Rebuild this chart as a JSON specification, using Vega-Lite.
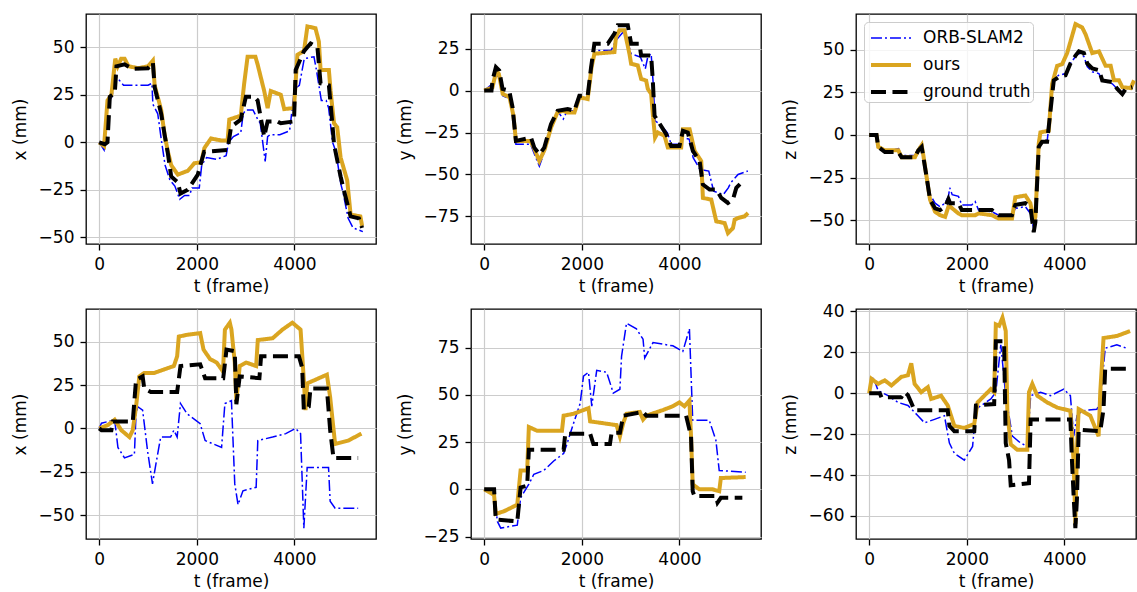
{
"$schema": "https://vega.github.io/schema/vega-lite/v6.json",
"padding": {"left": 10, "top": 13, "right": 0, "bottom": 0},
"bounds": "flush",
"columns": 3,
"spacing": {"row": 65, "column": 95},
"resolve": {"scale": {"color": "independent", "strokeDash": "independent", "strokeWidth": "independent"}, "legend": {"color": "independent", "strokeDash": "independent", "strokeWidth": "independent"}},
"config": {
  "font": "DejaVu Sans",
  "view": {"stroke": "#000000", "strokeWidth": 1.3},
  "axis": {"domain": false, "grid": true, "gridColor": "#cccccc", "gridWidth": 1.2, "tickColor": "#000000", "tickSize": 6, "tickWidth": 1.3, "labelFontSize": 17, "labelColor": "#000000", "labelFont": "DejaVu Sans", "titleFont": "DejaVu Sans", "titleFontSize": 17, "titleFontWeight": "normal", "titleColor": "#000000", "labelPadding": 6, "titlePadding": 6, "labelFlush": false, "labelOverlap": false},
  "axisY": {"titlePadding": 9},
  "legend": {"labelFont": "DejaVu Sans", "labelFontSize": 17, "labelColor": "#000000", "rowPadding": 4}
},
"data": {"values": [
{"p":1,"s":"a","t":0,"v":0},{"p":1,"s":"a","t":100,"v":-4},{"p":1,"s":"a","t":170,"v":20},{"p":1,"s":"a","t":260,"v":24},{"p":1,"s":"a","t":340,"v":35},{"p":1,"s":"a","t":400,"v":33},{"p":1,"s":"a","t":500,"v":30},{"p":1,"s":"a","t":700,"v":30},{"p":1,"s":"a","t":1000,"v":30},{"p":1,"s":"a","t":1080,"v":31},{"p":1,"s":"a","t":1100,"v":20},{"p":1,"s":"a","t":1200,"v":15},{"p":1,"s":"a","t":1280,"v":0},{"p":1,"s":"a","t":1350,"v":-12},{"p":1,"s":"a","t":1450,"v":-20},{"p":1,"s":"a","t":1550,"v":-23},{"p":1,"s":"a","t":1650,"v":-30},{"p":1,"s":"a","t":1750,"v":-28},{"p":1,"s":"a","t":1850,"v":-28},{"p":1,"s":"a","t":1900,"v":-24},{"p":1,"s":"a","t":2050,"v":-24},{"p":1,"s":"a","t":2100,"v":-12},{"p":1,"s":"a","t":2200,"v":-8},{"p":1,"s":"a","t":2400,"v":-9},{"p":1,"s":"a","t":2600,"v":-7},{"p":1,"s":"a","t":2650,"v":0},{"p":1,"s":"a","t":2750,"v":3},{"p":1,"s":"a","t":2900,"v":5},{"p":1,"s":"a","t":2950,"v":15},{"p":1,"s":"a","t":3000,"v":17},{"p":1,"s":"a","t":3150,"v":17},{"p":1,"s":"a","t":3250,"v":12},{"p":1,"s":"a","t":3300,"v":10},{"p":1,"s":"a","t":3400,"v":-10},{"p":1,"s":"a","t":3450,"v":3},{"p":1,"s":"a","t":3500,"v":4},{"p":1,"s":"a","t":3700,"v":4},{"p":1,"s":"a","t":3900,"v":6},{"p":1,"s":"a","t":4000,"v":28},{"p":1,"s":"a","t":4100,"v":30},{"p":1,"s":"a","t":4200,"v":44},{"p":1,"s":"a","t":4400,"v":45},{"p":1,"s":"a","t":4450,"v":38},{"p":1,"s":"a","t":4550,"v":22},{"p":1,"s":"a","t":4650,"v":22},{"p":1,"s":"a","t":4700,"v":18},{"p":1,"s":"a","t":4780,"v":0},{"p":1,"s":"a","t":4850,"v":-5},{"p":1,"s":"a","t":4950,"v":-22},{"p":1,"s":"a","t":5000,"v":-27},{"p":1,"s":"a","t":5100,"v":-40},{"p":1,"s":"a","t":5200,"v":-45},{"p":1,"s":"a","t":5300,"v":-46},{"p":1,"s":"a","t":5400,"v":-47},
{"p":1,"s":"b","t":0,"v":0},{"p":1,"s":"b","t":100,"v":-2},{"p":1,"s":"b","t":170,"v":22},{"p":1,"s":"b","t":250,"v":25},{"p":1,"s":"b","t":330,"v":44},{"p":1,"s":"b","t":380,"v":40},{"p":1,"s":"b","t":450,"v":44},{"p":1,"s":"b","t":520,"v":44},{"p":1,"s":"b","t":600,"v":40},{"p":1,"s":"b","t":800,"v":39},{"p":1,"s":"b","t":1000,"v":40},{"p":1,"s":"b","t":1100,"v":43},{"p":1,"s":"b","t":1136,"v":30},{"p":1,"s":"b","t":1270,"v":17},{"p":1,"s":"b","t":1340,"v":4},{"p":1,"s":"b","t":1408,"v":-5},{"p":1,"s":"b","t":1475,"v":-12},{"p":1,"s":"b","t":1610,"v":-17},{"p":1,"s":"b","t":1815,"v":-15},{"p":1,"s":"b","t":1950,"v":-11},{"p":1,"s":"b","t":2090,"v":-10.5},{"p":1,"s":"b","t":2155,"v":-3},{"p":1,"s":"b","t":2290,"v":2},{"p":1,"s":"b","t":2495,"v":1},{"p":1,"s":"b","t":2630,"v":1},{"p":1,"s":"b","t":2665,"v":12},{"p":1,"s":"b","t":2900,"v":14},{"p":1,"s":"b","t":2970,"v":31},{"p":1,"s":"b","t":3040,"v":45},{"p":1,"s":"b","t":3200,"v":45},{"p":1,"s":"b","t":3245,"v":41},{"p":1,"s":"b","t":3380,"v":27},{"p":1,"s":"b","t":3450,"v":18},{"p":1,"s":"b","t":3515,"v":27},{"p":1,"s":"b","t":3720,"v":25},{"p":1,"s":"b","t":3790,"v":17.5},{"p":1,"s":"b","t":3990,"v":18},{"p":1,"s":"b","t":4060,"v":46},{"p":1,"s":"b","t":4195,"v":48},{"p":1,"s":"b","t":4265,"v":61},{"p":1,"s":"b","t":4430,"v":60},{"p":1,"s":"b","t":4500,"v":53},{"p":1,"s":"b","t":4535,"v":38},{"p":1,"s":"b","t":4705,"v":38},{"p":1,"s":"b","t":4740,"v":27},{"p":1,"s":"b","t":4810,"v":10},{"p":1,"s":"b","t":4875,"v":8},{"p":1,"s":"b","t":4945,"v":-8},{"p":1,"s":"b","t":5080,"v":-20},{"p":1,"s":"b","t":5150,"v":-38},{"p":1,"s":"b","t":5350,"v":-39},{"p":1,"s":"b","t":5385,"v":-44},
{"p":1,"s":"c","t":0,"v":0},{"p":1,"s":"c","t":116,"v":-1},{"p":1,"s":"c","t":170,"v":0},{"p":1,"s":"c","t":218,"v":24},{"p":1,"s":"c","t":320,"v":26},{"p":1,"s":"c","t":354,"v":40},{"p":1,"s":"c","t":520,"v":41},{"p":1,"s":"c","t":680,"v":38.6},{"p":1,"s":"c","t":1000,"v":39},{"p":1,"s":"c","t":1100,"v":42},{"p":1,"s":"c","t":1136,"v":29},{"p":1,"s":"c","t":1270,"v":15},{"p":1,"s":"c","t":1340,"v":4},{"p":1,"s":"c","t":1408,"v":-6},{"p":1,"s":"c","t":1475,"v":-18},{"p":1,"s":"c","t":1610,"v":-21},{"p":1,"s":"c","t":1666,"v":-27},{"p":1,"s":"c","t":1815,"v":-25},{"p":1,"s":"c","t":1918,"v":-21},{"p":1,"s":"c","t":2020,"v":-17},{"p":1,"s":"c","t":2150,"v":-5},{"p":1,"s":"c","t":2630,"v":-4},{"p":1,"s":"c","t":2700,"v":8},{"p":1,"s":"c","t":2900,"v":12},{"p":1,"s":"c","t":3005,"v":24},{"p":1,"s":"c","t":3175,"v":24},{"p":1,"s":"c","t":3245,"v":22},{"p":1,"s":"c","t":3380,"v":3},{"p":1,"s":"c","t":3450,"v":11},{"p":1,"s":"c","t":3650,"v":11},{"p":1,"s":"c","t":3720,"v":10},{"p":1,"s":"c","t":3990,"v":11},{"p":1,"s":"c","t":4025,"v":38},{"p":1,"s":"c","t":4195,"v":48},{"p":1,"s":"c","t":4330,"v":52},{"p":1,"s":"c","t":4470,"v":50},{"p":1,"s":"c","t":4535,"v":31},{"p":1,"s":"c","t":4705,"v":30},{"p":1,"s":"c","t":4775,"v":10},{"p":1,"s":"c","t":4810,"v":-1},{"p":1,"s":"c","t":4945,"v":-18},{"p":1,"s":"c","t":5010,"v":-25},{"p":1,"s":"c","t":5150,"v":-39},{"p":1,"s":"c","t":5320,"v":-40},{"p":1,"s":"c","t":5385,"v":-45},
{"p":2,"s":"a","t":0,"v":0},{"p":2,"s":"a","t":170,"v":4},{"p":2,"s":"a","t":240,"v":10},{"p":2,"s":"a","t":300,"v":8},{"p":2,"s":"a","t":380,"v":-3},{"p":2,"s":"a","t":520,"v":-5},{"p":2,"s":"a","t":600,"v":-15},{"p":2,"s":"a","t":650,"v":-32},{"p":2,"s":"a","t":950,"v":-32},{"p":2,"s":"a","t":1030,"v":-38},{"p":2,"s":"a","t":1130,"v":-45},{"p":2,"s":"a","t":1240,"v":-36},{"p":2,"s":"a","t":1370,"v":-22},{"p":2,"s":"a","t":1500,"v":-12},{"p":2,"s":"a","t":1620,"v":-17},{"p":2,"s":"a","t":1700,"v":-12},{"p":2,"s":"a","t":1850,"v":-12},{"p":2,"s":"a","t":1950,"v":-3},{"p":2,"s":"a","t":2120,"v":-5},{"p":2,"s":"a","t":2200,"v":14},{"p":2,"s":"a","t":2257,"v":24},{"p":2,"s":"a","t":2600,"v":24},{"p":2,"s":"a","t":2700,"v":30},{"p":2,"s":"a","t":2850,"v":35},{"p":2,"s":"a","t":2950,"v":28},{"p":2,"s":"a","t":3010,"v":22},{"p":2,"s":"a","t":3200,"v":20},{"p":2,"s":"a","t":3300,"v":13},{"p":2,"s":"a","t":3350,"v":20},{"p":2,"s":"a","t":3420,"v":22},{"p":2,"s":"a","t":3460,"v":5},{"p":2,"s":"a","t":3500,"v":-18},{"p":2,"s":"a","t":3600,"v":-20},{"p":2,"s":"a","t":3750,"v":-25},{"p":2,"s":"a","t":3830,"v":-32},{"p":2,"s":"a","t":4000,"v":-32},{"p":2,"s":"a","t":4070,"v":-28},{"p":2,"s":"a","t":4200,"v":-29},{"p":2,"s":"a","t":4280,"v":-40},{"p":2,"s":"a","t":4420,"v":-47},{"p":2,"s":"a","t":4600,"v":-48},{"p":2,"s":"a","t":4700,"v":-60},{"p":2,"s":"a","t":4900,"v":-62},{"p":2,"s":"a","t":5000,"v":-58},{"p":2,"s":"a","t":5050,"v":-55},{"p":2,"s":"a","t":5200,"v":-50},{"p":2,"s":"a","t":5400,"v":-48},
{"p":2,"s":"b","t":0,"v":0},{"p":2,"s":"b","t":170,"v":2},{"p":2,"s":"b","t":250,"v":12},{"p":2,"s":"b","t":300,"v":10},{"p":2,"s":"b","t":380,"v":-2},{"p":2,"s":"b","t":520,"v":-4},{"p":2,"s":"b","t":600,"v":-15},{"p":2,"s":"b","t":650,"v":-30},{"p":2,"s":"b","t":950,"v":-30},{"p":2,"s":"b","t":1030,"v":-35},{"p":2,"s":"b","t":1130,"v":-42},{"p":2,"s":"b","t":1240,"v":-35},{"p":2,"s":"b","t":1370,"v":-22},{"p":2,"s":"b","t":1500,"v":-13},{"p":2,"s":"b","t":1620,"v":-12},{"p":2,"s":"b","t":1700,"v":-13},{"p":2,"s":"b","t":1850,"v":-13},{"p":2,"s":"b","t":1950,"v":-4},{"p":2,"s":"b","t":2120,"v":-5},{"p":2,"s":"b","t":2200,"v":14},{"p":2,"s":"b","t":2257,"v":22},{"p":2,"s":"b","t":2668,"v":23},{"p":2,"s":"b","t":2700,"v":32},{"p":2,"s":"b","t":2770,"v":36},{"p":2,"s":"b","t":2873,"v":36},{"p":2,"s":"b","t":2975,"v":22},{"p":2,"s":"b","t":3010,"v":16},{"p":2,"s":"b","t":3146,"v":15},{"p":2,"s":"b","t":3215,"v":7},{"p":2,"s":"b","t":3317,"v":6},{"p":2,"s":"b","t":3352,"v":1},{"p":2,"s":"b","t":3420,"v":-2},{"p":2,"s":"b","t":3460,"v":-16},{"p":2,"s":"b","t":3500,"v":-28},{"p":2,"s":"b","t":3557,"v":-25},{"p":2,"s":"b","t":3694,"v":-27},{"p":2,"s":"b","t":3762,"v":-34},{"p":2,"s":"b","t":4035,"v":-34},{"p":2,"s":"b","t":4070,"v":-23},{"p":2,"s":"b","t":4207,"v":-23},{"p":2,"s":"b","t":4310,"v":-36},{"p":2,"s":"b","t":4446,"v":-42},{"p":2,"s":"b","t":4480,"v":-64},{"p":2,"s":"b","t":4651,"v":-65},{"p":2,"s":"b","t":4754,"v":-78},{"p":2,"s":"b","t":4925,"v":-79},{"p":2,"s":"b","t":4993,"v":-85},{"p":2,"s":"b","t":5096,"v":-82},{"p":2,"s":"b","t":5130,"v":-77},{"p":2,"s":"b","t":5198,"v":-76},{"p":2,"s":"b","t":5335,"v":-75},{"p":2,"s":"b","t":5404,"v":-73},
{"p":2,"s":"c","t":0,"v":0},{"p":2,"s":"c","t":150,"v":0},{"p":2,"s":"c","t":170,"v":6},{"p":2,"s":"c","t":240,"v":14},{"p":2,"s":"c","t":308,"v":12},{"p":2,"s":"c","t":376,"v":1},{"p":2,"s":"c","t":513,"v":0},{"p":2,"s":"c","t":581,"v":-10},{"p":2,"s":"c","t":650,"v":-30},{"p":2,"s":"c","t":958,"v":-28},{"p":2,"s":"c","t":1026,"v":-34},{"p":2,"s":"c","t":1130,"v":-38},{"p":2,"s":"c","t":1231,"v":-34},{"p":2,"s":"c","t":1368,"v":-20},{"p":2,"s":"c","t":1505,"v":-12},{"p":2,"s":"c","t":1710,"v":-11},{"p":2,"s":"c","t":1847,"v":-12},{"p":2,"s":"c","t":1950,"v":-3},{"p":2,"s":"c","t":2120,"v":-3},{"p":2,"s":"c","t":2190,"v":14},{"p":2,"s":"c","t":2257,"v":28},{"p":2,"s":"c","t":2531,"v":28},{"p":2,"s":"c","t":2668,"v":34},{"p":2,"s":"c","t":2736,"v":39},{"p":2,"s":"c","t":2941,"v":39},{"p":2,"s":"c","t":3010,"v":28},{"p":2,"s":"c","t":3180,"v":28},{"p":2,"s":"c","t":3215,"v":21},{"p":2,"s":"c","t":3420,"v":21},{"p":2,"s":"c","t":3454,"v":6},{"p":2,"s":"c","t":3490,"v":-15},{"p":2,"s":"c","t":3557,"v":-18},{"p":2,"s":"c","t":3728,"v":-26},{"p":2,"s":"c","t":3830,"v":-33},{"p":2,"s":"c","t":4000,"v":-33},{"p":2,"s":"c","t":4070,"v":-24},{"p":2,"s":"c","t":4170,"v":-25},{"p":2,"s":"c","t":4275,"v":-36},{"p":2,"s":"c","t":4412,"v":-42},{"p":2,"s":"c","t":4480,"v":-56},{"p":2,"s":"c","t":4617,"v":-59},{"p":2,"s":"c","t":4754,"v":-59},{"p":2,"s":"c","t":4856,"v":-64},{"p":2,"s":"c","t":4993,"v":-67},{"p":2,"s":"c","t":5096,"v":-65},{"p":2,"s":"c","t":5164,"v":-58},{"p":2,"s":"c","t":5267,"v":-55},{"p":2,"s":"c","t":5335,"v":-55},
{"p":3,"s":"a","t":0,"v":0},{"p":3,"s":"a","t":150,"v":0},{"p":3,"s":"a","t":185,"v":-7},{"p":3,"s":"a","t":322,"v":-10},{"p":3,"s":"a","t":600,"v":-8},{"p":3,"s":"a","t":664,"v":-12},{"p":3,"s":"a","t":938,"v":-12},{"p":3,"s":"a","t":1007,"v":-8},{"p":3,"s":"a","t":1075,"v":-5},{"p":3,"s":"a","t":1110,"v":-12},{"p":3,"s":"a","t":1178,"v":-22},{"p":3,"s":"a","t":1247,"v":-35},{"p":3,"s":"a","t":1350,"v":-40},{"p":3,"s":"a","t":1452,"v":-42},{"p":3,"s":"a","t":1555,"v":-40},{"p":3,"s":"a","t":1623,"v":-36},{"p":3,"s":"a","t":1650,"v":-31},{"p":3,"s":"a","t":1700,"v":-35},{"p":3,"s":"a","t":1829,"v":-36},{"p":3,"s":"a","t":1897,"v":-41},{"p":3,"s":"a","t":2100,"v":-41},{"p":3,"s":"a","t":2171,"v":-39},{"p":3,"s":"a","t":2240,"v":-44},{"p":3,"s":"a","t":2514,"v":-45},{"p":3,"s":"a","t":2651,"v":-47},{"p":3,"s":"a","t":2925,"v":-47},{"p":3,"s":"a","t":2993,"v":-43},{"p":3,"s":"a","t":3199,"v":-42},{"p":3,"s":"a","t":3302,"v":-46},{"p":3,"s":"a","t":3370,"v":-55},{"p":3,"s":"a","t":3404,"v":-50},{"p":3,"s":"a","t":3473,"v":-7},{"p":3,"s":"a","t":3541,"v":-4},{"p":3,"s":"a","t":3644,"v":-4},{"p":3,"s":"a","t":3713,"v":14},{"p":3,"s":"a","t":3781,"v":33},{"p":3,"s":"a","t":3884,"v":35},{"p":3,"s":"a","t":4021,"v":36},{"p":3,"s":"a","t":4124,"v":42},{"p":3,"s":"a","t":4226,"v":46},{"p":3,"s":"a","t":4295,"v":48},{"p":3,"s":"a","t":4398,"v":46},{"p":3,"s":"a","t":4466,"v":40},{"p":3,"s":"a","t":4569,"v":37},{"p":3,"s":"a","t":4706,"v":36},{"p":3,"s":"a","t":4774,"v":32},{"p":3,"s":"a","t":4980,"v":30},{"p":3,"s":"a","t":5083,"v":27},{"p":3,"s":"a","t":5185,"v":26},{"p":3,"s":"a","t":5254,"v":27},{"p":3,"s":"a","t":5391,"v":28},
{"p":3,"s":"b","t":0,"v":0},{"p":3,"s":"b","t":150,"v":0},{"p":3,"s":"b","t":185,"v":-7},{"p":3,"s":"b","t":322,"v":-9},{"p":3,"s":"b","t":596,"v":-9},{"p":3,"s":"b","t":664,"v":-13},{"p":3,"s":"b","t":938,"v":-13},{"p":3,"s":"b","t":1007,"v":-9},{"p":3,"s":"b","t":1075,"v":-6},{"p":3,"s":"b","t":1110,"v":-12},{"p":3,"s":"b","t":1178,"v":-25},{"p":3,"s":"b","t":1247,"v":-38},{"p":3,"s":"b","t":1350,"v":-45},{"p":3,"s":"b","t":1452,"v":-47},{"p":3,"s":"b","t":1555,"v":-48},{"p":3,"s":"b","t":1623,"v":-42},{"p":3,"s":"b","t":1658,"v":-42},{"p":3,"s":"b","t":1829,"v":-46},{"p":3,"s":"b","t":1897,"v":-47},{"p":3,"s":"b","t":2171,"v":-47},{"p":3,"s":"b","t":2240,"v":-46},{"p":3,"s":"b","t":2514,"v":-47},{"p":3,"s":"b","t":2651,"v":-49},{"p":3,"s":"b","t":2925,"v":-49},{"p":3,"s":"b","t":2993,"v":-36.5},{"p":3,"s":"b","t":3199,"v":-35.5},{"p":3,"s":"b","t":3302,"v":-40},{"p":3,"s":"b","t":3370,"v":-51},{"p":3,"s":"b","t":3404,"v":-48},{"p":3,"s":"b","t":3473,"v":-5},{"p":3,"s":"b","t":3507,"v":1.5},{"p":3,"s":"b","t":3678,"v":2.5},{"p":3,"s":"b","t":3747,"v":30},{"p":3,"s":"b","t":3850,"v":40.5},{"p":3,"s":"b","t":3952,"v":41.5},{"p":3,"s":"b","t":4055,"v":48},{"p":3,"s":"b","t":4226,"v":65},{"p":3,"s":"b","t":4363,"v":63},{"p":3,"s":"b","t":4432,"v":59},{"p":3,"s":"b","t":4569,"v":48},{"p":3,"s":"b","t":4706,"v":49},{"p":3,"s":"b","t":4843,"v":40.5},{"p":3,"s":"b","t":4946,"v":40.5},{"p":3,"s":"b","t":5014,"v":32},{"p":3,"s":"b","t":5117,"v":32},{"p":3,"s":"b","t":5185,"v":28},{"p":3,"s":"b","t":5357,"v":27.5},{"p":3,"s":"b","t":5425,"v":32},
{"p":3,"s":"c","t":0,"v":0},{"p":3,"s":"c","t":150,"v":0},{"p":3,"s":"c","t":185,"v":-7},{"p":3,"s":"c","t":322,"v":-10},{"p":3,"s":"c","t":596,"v":-10},{"p":3,"s":"c","t":664,"v":-13},{"p":3,"s":"c","t":938,"v":-13},{"p":3,"s":"c","t":1007,"v":-9},{"p":3,"s":"c","t":1075,"v":-7},{"p":3,"s":"c","t":1110,"v":-13},{"p":3,"s":"c","t":1178,"v":-25},{"p":3,"s":"c","t":1247,"v":-38},{"p":3,"s":"c","t":1350,"v":-43},{"p":3,"s":"c","t":1452,"v":-44},{"p":3,"s":"c","t":1555,"v":-42},{"p":3,"s":"c","t":1623,"v":-37.5},{"p":3,"s":"c","t":1658,"v":-40},{"p":3,"s":"c","t":1829,"v":-40},{"p":3,"s":"c","t":1897,"v":-44},{"p":3,"s":"c","t":2514,"v":-44},{"p":3,"s":"c","t":2651,"v":-47},{"p":3,"s":"c","t":2925,"v":-47},{"p":3,"s":"c","t":2993,"v":-41},{"p":3,"s":"c","t":3199,"v":-40},{"p":3,"s":"c","t":3302,"v":-42},{"p":3,"s":"c","t":3370,"v":-57},{"p":3,"s":"c","t":3404,"v":-51},{"p":3,"s":"c","t":3473,"v":-7},{"p":3,"s":"c","t":3541,"v":-4},{"p":3,"s":"c","t":3644,"v":-4},{"p":3,"s":"c","t":3713,"v":14},{"p":3,"s":"c","t":3781,"v":32},{"p":3,"s":"c","t":3884,"v":34},{"p":3,"s":"c","t":4021,"v":35},{"p":3,"s":"c","t":4124,"v":42},{"p":3,"s":"c","t":4226,"v":46.5},{"p":3,"s":"c","t":4295,"v":49},{"p":3,"s":"c","t":4398,"v":48},{"p":3,"s":"c","t":4466,"v":42},{"p":3,"s":"c","t":4569,"v":39},{"p":3,"s":"c","t":4706,"v":38},{"p":3,"s":"c","t":4774,"v":32},{"p":3,"s":"c","t":4980,"v":31},{"p":3,"s":"c","t":5083,"v":27},{"p":3,"s":"c","t":5185,"v":24},{"p":3,"s":"c","t":5254,"v":27},{"p":3,"s":"c","t":5391,"v":28},
{"p":4,"s":"a","t":0,"v":0},{"p":4,"s":"a","t":47,"v":3},{"p":4,"s":"a","t":317,"v":5},{"p":4,"s":"a","t":384,"v":-11},{"p":4,"s":"a","t":519,"v":-17},{"p":4,"s":"a","t":721,"v":-15},{"p":4,"s":"a","t":755,"v":8.5},{"p":4,"s":"a","t":789,"v":12.5},{"p":4,"s":"a","t":890,"v":10.5},{"p":4,"s":"a","t":991,"v":-13},{"p":4,"s":"a","t":1092,"v":-32},{"p":4,"s":"a","t":1159,"v":-21},{"p":4,"s":"a","t":1260,"v":-5},{"p":4,"s":"a","t":1463,"v":-5},{"p":4,"s":"a","t":1530,"v":-1},{"p":4,"s":"a","t":1597,"v":-5},{"p":4,"s":"a","t":1665,"v":14.4},{"p":4,"s":"a","t":1800,"v":8.5},{"p":4,"s":"a","t":2069,"v":2.7},{"p":4,"s":"a","t":2170,"v":-7},{"p":4,"s":"a","t":2339,"v":-9},{"p":4,"s":"a","t":2507,"v":-11},{"p":4,"s":"a","t":2575,"v":14.4},{"p":4,"s":"a","t":2709,"v":16},{"p":4,"s":"a","t":2777,"v":-32},{"p":4,"s":"a","t":2844,"v":-44},{"p":4,"s":"a","t":2945,"v":-36},{"p":4,"s":"a","t":3215,"v":-34},{"p":4,"s":"a","t":3249,"v":-7},{"p":4,"s":"a","t":3552,"v":-5},{"p":4,"s":"a","t":3822,"v":-3},{"p":4,"s":"a","t":4024,"v":0},{"p":4,"s":"a","t":4125,"v":-3},{"p":4,"s":"a","t":4192,"v":-57.6},{"p":4,"s":"a","t":4260,"v":-22.6},{"p":4,"s":"a","t":4698,"v":-22.6},{"p":4,"s":"a","t":4731,"v":-42},{"p":4,"s":"a","t":4832,"v":-46},{"p":4,"s":"a","t":5304,"v":-46},
{"p":4,"s":"b","t":0,"v":0},{"p":4,"s":"b","t":182,"v":2},{"p":4,"s":"b","t":317,"v":5},{"p":4,"s":"b","t":452,"v":-1},{"p":4,"s":"b","t":620,"v":-5},{"p":4,"s":"b","t":688,"v":-1},{"p":4,"s":"b","t":755,"v":12.5},{"p":4,"s":"b","t":822,"v":30},{"p":4,"s":"b","t":923,"v":32},{"p":4,"s":"b","t":1126,"v":32},{"p":4,"s":"b","t":1328,"v":34},{"p":4,"s":"b","t":1530,"v":36},{"p":4,"s":"b","t":1597,"v":41.6},{"p":4,"s":"b","t":1631,"v":53},{"p":4,"s":"b","t":1800,"v":54},{"p":4,"s":"b","t":2069,"v":55},{"p":4,"s":"b","t":2137,"v":45.5},{"p":4,"s":"b","t":2271,"v":40},{"p":4,"s":"b","t":2406,"v":38},{"p":4,"s":"b","t":2507,"v":34},{"p":4,"s":"b","t":2541,"v":36},{"p":4,"s":"b","t":2575,"v":57},{"p":4,"s":"b","t":2676,"v":61},{"p":4,"s":"b","t":2709,"v":57},{"p":4,"s":"b","t":2777,"v":38},{"p":4,"s":"b","t":2810,"v":16},{"p":4,"s":"b","t":2878,"v":36},{"p":4,"s":"b","t":3013,"v":38},{"p":4,"s":"b","t":3215,"v":36},{"p":4,"s":"b","t":3249,"v":51},{"p":4,"s":"b","t":3552,"v":52},{"p":4,"s":"b","t":3754,"v":57},{"p":4,"s":"b","t":3956,"v":61},{"p":4,"s":"b","t":4125,"v":57},{"p":4,"s":"b","t":4192,"v":28},{"p":4,"s":"b","t":4226,"v":10.5},{"p":4,"s":"b","t":4260,"v":26},{"p":4,"s":"b","t":4664,"v":31},{"p":4,"s":"b","t":4731,"v":18},{"p":4,"s":"b","t":4832,"v":-9},{"p":4,"s":"b","t":5102,"v":-7},{"p":4,"s":"b","t":5372,"v":-3},
{"p":4,"s":"c","t":0,"v":0},{"p":4,"s":"c","t":47,"v":-1},{"p":4,"s":"c","t":250,"v":-1},{"p":4,"s":"c","t":283,"v":4},{"p":4,"s":"c","t":688,"v":4},{"p":4,"s":"c","t":755,"v":28},{"p":4,"s":"c","t":890,"v":30},{"p":4,"s":"c","t":923,"v":23},{"p":4,"s":"c","t":1058,"v":21},{"p":4,"s":"c","t":1597,"v":21},{"p":4,"s":"c","t":1665,"v":36},{"p":4,"s":"c","t":2069,"v":37},{"p":4,"s":"c","t":2170,"v":29},{"p":4,"s":"c","t":2541,"v":29},{"p":4,"s":"c","t":2608,"v":45.5},{"p":4,"s":"c","t":2777,"v":44.5},{"p":4,"s":"c","t":2810,"v":14},{"p":4,"s":"c","t":2878,"v":30},{"p":4,"s":"c","t":3282,"v":29},{"p":4,"s":"c","t":3316,"v":41.6},{"p":4,"s":"c","t":4091,"v":41.6},{"p":4,"s":"c","t":4158,"v":35},{"p":4,"s":"c","t":4192,"v":10.5},{"p":4,"s":"c","t":4293,"v":12.5},{"p":4,"s":"c","t":4327,"v":23},{"p":4,"s":"c","t":4664,"v":23},{"p":4,"s":"c","t":4731,"v":-1},{"p":4,"s":"c","t":4799,"v":-17},{"p":4,"s":"c","t":5304,"v":-17},
{"p":5,"s":"a","t":0,"v":0},{"p":5,"s":"a","t":203,"v":-3},{"p":5,"s":"a","t":271,"v":-17},{"p":5,"s":"a","t":339,"v":-20.5},{"p":5,"s":"a","t":678,"v":-19},{"p":5,"s":"a","t":746,"v":-4.5},{"p":5,"s":"a","t":915,"v":2.7},{"p":5,"s":"a","t":1017,"v":8},{"p":5,"s":"a","t":1220,"v":10},{"p":5,"s":"a","t":1424,"v":15},{"p":5,"s":"a","t":1627,"v":19},{"p":5,"s":"a","t":1695,"v":24},{"p":5,"s":"a","t":1831,"v":35},{"p":5,"s":"a","t":1966,"v":45.5},{"p":5,"s":"a","t":2034,"v":60},{"p":5,"s":"a","t":2136,"v":62},{"p":5,"s":"a","t":2204,"v":44},{"p":5,"s":"a","t":2305,"v":63},{"p":5,"s":"a","t":2509,"v":62},{"p":5,"s":"a","t":2644,"v":51},{"p":5,"s":"a","t":2780,"v":53},{"p":5,"s":"a","t":2814,"v":70.5},{"p":5,"s":"a","t":2915,"v":88},{"p":5,"s":"a","t":3119,"v":85},{"p":5,"s":"a","t":3254,"v":79.5},{"p":5,"s":"a","t":3288,"v":69.6},{"p":5,"s":"a","t":3458,"v":77.7},{"p":5,"s":"a","t":3865,"v":76},{"p":5,"s":"a","t":4068,"v":73},{"p":5,"s":"a","t":4204,"v":85},{"p":5,"s":"a","t":4271,"v":36.6},{"p":5,"s":"a","t":4610,"v":36.6},{"p":5,"s":"a","t":4746,"v":26},{"p":5,"s":"a","t":4814,"v":10},{"p":5,"s":"a","t":5356,"v":9},
{"p":5,"s":"b","t":0,"v":0},{"p":5,"s":"b","t":136,"v":-2},{"p":5,"s":"b","t":203,"v":-3},{"p":5,"s":"b","t":237,"v":-13},{"p":5,"s":"b","t":407,"v":-11.6},{"p":5,"s":"b","t":610,"v":-9},{"p":5,"s":"b","t":678,"v":-8},{"p":5,"s":"b","t":746,"v":10},{"p":5,"s":"b","t":881,"v":10},{"p":5,"s":"b","t":915,"v":33},{"p":5,"s":"b","t":1085,"v":31},{"p":5,"s":"b","t":1424,"v":31},{"p":5,"s":"b","t":1593,"v":31},{"p":5,"s":"b","t":1627,"v":39},{"p":5,"s":"b","t":1831,"v":40},{"p":5,"s":"b","t":2136,"v":43},{"p":5,"s":"b","t":2170,"v":36},{"p":5,"s":"b","t":2441,"v":35},{"p":5,"s":"b","t":2712,"v":34},{"p":5,"s":"b","t":2780,"v":28},{"p":5,"s":"b","t":2848,"v":35},{"p":5,"s":"b","t":2915,"v":40},{"p":5,"s":"b","t":3187,"v":41},{"p":5,"s":"b","t":3254,"v":37},{"p":5,"s":"b","t":3322,"v":39},{"p":5,"s":"b","t":3661,"v":42},{"p":5,"s":"b","t":3865,"v":44},{"p":5,"s":"b","t":4000,"v":46},{"p":5,"s":"b","t":4102,"v":44},{"p":5,"s":"b","t":4204,"v":47},{"p":5,"s":"b","t":4237,"v":28},{"p":5,"s":"b","t":4271,"v":2.7},{"p":5,"s":"b","t":4407,"v":0},{"p":5,"s":"b","t":4678,"v":0},{"p":5,"s":"b","t":4814,"v":-1},{"p":5,"s":"b","t":4848,"v":6},{"p":5,"s":"b","t":5356,"v":6.5},
{"p":5,"s":"c","t":0,"v":0},{"p":5,"s":"c","t":203,"v":0},{"p":5,"s":"c","t":237,"v":-16},{"p":5,"s":"c","t":678,"v":-17},{"p":5,"s":"c","t":746,"v":1},{"p":5,"s":"c","t":881,"v":2},{"p":5,"s":"c","t":915,"v":21},{"p":5,"s":"c","t":1627,"v":21},{"p":5,"s":"c","t":1661,"v":29.5},{"p":5,"s":"c","t":2170,"v":29.5},{"p":5,"s":"c","t":2237,"v":24},{"p":5,"s":"c","t":2576,"v":24},{"p":5,"s":"c","t":2610,"v":30},{"p":5,"s":"c","t":2780,"v":30},{"p":5,"s":"c","t":2848,"v":39},{"p":5,"s":"c","t":3254,"v":41},{"p":5,"s":"c","t":3322,"v":39},{"p":5,"s":"c","t":4136,"v":39},{"p":5,"s":"c","t":4237,"v":28},{"p":5,"s":"c","t":4271,"v":-1},{"p":5,"s":"c","t":4305,"v":-3.5},{"p":5,"s":"c","t":4746,"v":-3.5},{"p":5,"s":"c","t":4780,"v":-7},{"p":5,"s":"c","t":4848,"v":-4.5},{"p":5,"s":"c","t":5288,"v":-4.5},
{"p":6,"s":"a","t":0,"v":0},{"p":6,"s":"a","t":81,"v":8},{"p":6,"s":"a","t":183,"v":1.3},{"p":6,"s":"a","t":387,"v":-1.2},{"p":6,"s":"a","t":591,"v":-4.5},{"p":6,"s":"a","t":794,"v":-6},{"p":6,"s":"a","t":998,"v":-11},{"p":6,"s":"a","t":1134,"v":-14.5},{"p":6,"s":"a","t":1338,"v":-12.8},{"p":6,"s":"a","t":1541,"v":-11},{"p":6,"s":"a","t":1643,"v":-24.4},{"p":6,"s":"a","t":1745,"v":-29.4},{"p":6,"s":"a","t":1949,"v":-32.7},{"p":6,"s":"a","t":2118,"v":-26},{"p":6,"s":"a","t":2186,"v":-7.8},{"p":6,"s":"a","t":2492,"v":-2.8},{"p":6,"s":"a","t":2594,"v":0.5},{"p":6,"s":"a","t":2696,"v":23.7},{"p":6,"s":"a","t":2797,"v":-1.2},{"p":6,"s":"a","t":2933,"v":-21},{"p":6,"s":"a","t":3103,"v":-24.4},{"p":6,"s":"a","t":3239,"v":-26},{"p":6,"s":"a","t":3307,"v":-1.2},{"p":6,"s":"a","t":3510,"v":0.5},{"p":6,"s":"a","t":3714,"v":-1.2},{"p":6,"s":"a","t":3986,"v":2},{"p":6,"s":"a","t":4121,"v":-1.2},{"p":6,"s":"a","t":4189,"v":-21},{"p":6,"s":"a","t":4257,"v":-11},{"p":6,"s":"a","t":4359,"v":-8.6},{"p":6,"s":"a","t":4665,"v":-7.8},{"p":6,"s":"a","t":4733,"v":-4.5},{"p":6,"s":"a","t":4834,"v":22},{"p":6,"s":"a","t":5072,"v":23.7},{"p":6,"s":"a","t":5276,"v":22},
{"p":6,"s":"b","t":0,"v":0},{"p":6,"s":"b","t":48,"v":7},{"p":6,"s":"b","t":183,"v":4.6},{"p":6,"s":"b","t":319,"v":6.3},{"p":6,"s":"b","t":455,"v":3.8},{"p":6,"s":"b","t":659,"v":8},{"p":6,"s":"b","t":794,"v":8.8},{"p":6,"s":"b","t":862,"v":14.6},{"p":6,"s":"b","t":930,"v":4.6},{"p":6,"s":"b","t":1066,"v":0.5},{"p":6,"s":"b","t":1202,"v":3},{"p":6,"s":"b","t":1270,"v":-2.8},{"p":6,"s":"b","t":1473,"v":-1.2},{"p":6,"s":"b","t":1609,"v":-6},{"p":6,"s":"b","t":1745,"v":-16},{"p":6,"s":"b","t":1949,"v":-17},{"p":6,"s":"b","t":2152,"v":-15},{"p":6,"s":"b","t":2220,"v":-4.5},{"p":6,"s":"b","t":2492,"v":2},{"p":6,"s":"b","t":2560,"v":0.5},{"p":6,"s":"b","t":2594,"v":33.7},{"p":6,"s":"b","t":2662,"v":33},{"p":6,"s":"b","t":2730,"v":37},{"p":6,"s":"b","t":2797,"v":30.4},{"p":6,"s":"b","t":2831,"v":-9.5},{"p":6,"s":"b","t":2899,"v":-25},{"p":6,"s":"b","t":3035,"v":-27.7},{"p":6,"s":"b","t":3239,"v":-27.7},{"p":6,"s":"b","t":3273,"v":0.5},{"p":6,"s":"b","t":3341,"v":4.6},{"p":6,"s":"b","t":3443,"v":-1.2},{"p":6,"s":"b","t":3646,"v":-4.5},{"p":6,"s":"b","t":3850,"v":-7},{"p":6,"s":"b","t":4121,"v":-8.6},{"p":6,"s":"b","t":4189,"v":-34},{"p":6,"s":"b","t":4223,"v":-64},{"p":6,"s":"b","t":4257,"v":-26},{"p":6,"s":"b","t":4291,"v":-7.8},{"p":6,"s":"b","t":4529,"v":-11},{"p":6,"s":"b","t":4699,"v":-21},{"p":6,"s":"b","t":4733,"v":0.5},{"p":6,"s":"b","t":4800,"v":27},{"p":6,"s":"b","t":5072,"v":28},{"p":6,"s":"b","t":5344,"v":30.4},
{"p":6,"s":"c","t":0,"v":0},{"p":6,"s":"c","t":217,"v":0},{"p":6,"s":"c","t":251,"v":-2},{"p":6,"s":"c","t":659,"v":-2},{"p":6,"s":"c","t":727,"v":0.5},{"p":6,"s":"c","t":794,"v":-1},{"p":6,"s":"c","t":930,"v":-8.3},{"p":6,"s":"c","t":1609,"v":-8.3},{"p":6,"s":"c","t":1643,"v":-16},{"p":6,"s":"c","t":1745,"v":-18.6},{"p":6,"s":"c","t":2152,"v":-18.6},{"p":6,"s":"c","t":2186,"v":-6},{"p":6,"s":"c","t":2560,"v":-5.3},{"p":6,"s":"c","t":2594,"v":25.4},{"p":6,"s":"c","t":2763,"v":25.4},{"p":6,"s":"c","t":2797,"v":-24.4},{"p":6,"s":"c","t":2865,"v":-32.7},{"p":6,"s":"c","t":2899,"v":-45},{"p":6,"s":"c","t":3273,"v":-44},{"p":6,"s":"c","t":3307,"v":-12.8},{"p":6,"s":"c","t":4121,"v":-12.8},{"p":6,"s":"c","t":4155,"v":-34},{"p":6,"s":"c","t":4189,"v":-51},{"p":6,"s":"c","t":4223,"v":-66},{"p":6,"s":"c","t":4257,"v":-51},{"p":6,"s":"c","t":4291,"v":-17.8},{"p":6,"s":"c","t":4733,"v":-18.6},{"p":6,"s":"c","t":4800,"v":-7.8},{"p":6,"s":"c","t":4834,"v":12},{"p":6,"s":"c","t":5344,"v":12}
]},
"concat": [
{"width": 290, "height": 230, "transform": [{"filter": "datum.p == 1"}], "mark": {"type": "line"},
 "encoding": {
  "x": {"field": "t", "type": "quantitative", "scale": {"domain": [-270, 5670], "nice": false, "zero": false}, "axis": {"values": [0, 2000, 4000], "format": "d", "title": "t (frame)"}},
  "y": {"field": "v", "type": "quantitative", "scale": {"domain": [-53.5, 67.5], "nice": false, "zero": false}, "axis": {"values": [-50, -25, 0, 25, 50], "title": "x (mm)"}},
  "color": {"field": "s", "type": "nominal", "scale": {"domain": ["a", "b", "c"], "range": ["#0000ff", "#daa520", "#000000"]}, "legend": null},
  "strokeDash": {"field": "s", "type": "nominal", "scale": {"domain": ["a", "b", "c"], "range": [[11, 3, 2, 3], [1, 0], [15, 6.5]]}, "legend": null},
  "strokeWidth": {"field": "s", "type": "nominal", "scale": {"type": "ordinal", "domain": ["a", "b", "c"], "range": [1.5, 4, 4]}, "legend": null}
 }},
{"width": 290, "height": 230, "transform": [{"filter": "datum.p == 2"}], "mark": {"type": "line"},
 "encoding": {
  "x": {"field": "t", "type": "quantitative", "scale": {"domain": [-270, 5670], "nice": false, "zero": false}, "axis": {"values": [0, 2000, 4000], "format": "d", "title": "t (frame)"}},
  "y": {"field": "v", "type": "quantitative", "scale": {"domain": [-91.5, 45.7], "nice": false, "zero": false}, "axis": {"values": [-75, -50, -25, 0, 25], "title": "y (mm)"}},
  "color": {"field": "s", "type": "nominal", "scale": {"domain": ["a", "b", "c"], "range": ["#0000ff", "#daa520", "#000000"]}, "legend": null},
  "strokeDash": {"field": "s", "type": "nominal", "scale": {"domain": ["a", "b", "c"], "range": [[11, 3, 2, 3], [1, 0], [15, 6.5]]}, "legend": null},
  "strokeWidth": {"field": "s", "type": "nominal", "scale": {"type": "ordinal", "domain": ["a", "b", "c"], "range": [1.5, 4, 4]}, "legend": null}
 }},
{"width": 280, "height": 230, "transform": [{"filter": "datum.p == 3"}], "mark": {"type": "line"},
 "encoding": {
  "x": {"field": "t", "type": "quantitative", "scale": {"domain": [-270, 5465], "nice": false, "zero": false}, "axis": {"values": [0, 2000, 4000], "format": "d", "title": "t (frame)"}},
  "y": {"field": "v", "type": "quantitative", "scale": {"domain": [-63.9, 70.9], "nice": false, "zero": false}, "axis": {"values": [-50, -25, 0, 25, 50], "title": "z (mm)"}},
  "color": {"field": "s", "type": "nominal", "scale": {"domain": ["a", "b", "c"], "range": ["#0000ff", "#daa520", "#000000"]}, "legend": {"title": null, "orient": "top-left", "offset": 8, "padding": 2, "fillColor": "rgba(255,255,255,0.8)", "strokeColor": "#cccccc", "cornerRadius": 4, "symbolType": "M-1.54,0H1.54", "symbolSize": 676, "symbolOffset": 10, "rowPadding": 4, "labelOffset": 17, "labelExpr": "datum.label == 'a' ? 'ORB-SLAM2' : datum.label == 'b' ? 'ours' : 'ground truth\u00a0\u00a0'"}},
  "strokeDash": {"field": "s", "type": "nominal", "scale": {"domain": ["a", "b", "c"], "range": [[11, 3, 2, 3], [1, 0], [15, 6.5]]}, "legend": {"title": null, "orient": "top-left", "offset": 8, "padding": 2, "fillColor": "rgba(255,255,255,0.8)", "strokeColor": "#cccccc", "cornerRadius": 4, "symbolType": "M-1.54,0H1.54", "symbolSize": 676, "symbolOffset": 10, "rowPadding": 4, "labelOffset": 17, "labelExpr": "datum.label == 'a' ? 'ORB-SLAM2' : datum.label == 'b' ? 'ours' : 'ground truth\u00a0\u00a0'"}},
  "strokeWidth": {"field": "s", "type": "nominal", "scale": {"type": "ordinal", "domain": ["a", "b", "c"], "range": [1.5, 4, 4]}, "legend": {"title": null, "orient": "top-left", "offset": 8, "padding": 2, "fillColor": "rgba(255,255,255,0.8)", "strokeColor": "#cccccc", "cornerRadius": 4, "symbolType": "M-1.54,0H1.54", "symbolSize": 676, "symbolOffset": 10, "rowPadding": 4, "labelOffset": 17, "labelExpr": "datum.label == 'a' ? 'ORB-SLAM2' : datum.label == 'b' ? 'ours' : 'ground truth\u00a0\u00a0'"}}
 }},
{"width": 290, "height": 230, "transform": [{"filter": "datum.p == 4"}], "mark": {"type": "line"},
 "encoding": {
  "x": {"field": "t", "type": "quantitative", "scale": {"domain": [-270, 5670], "nice": false, "zero": false}, "axis": {"values": [0, 2000, 4000], "format": "d", "title": "t (frame)"}},
  "y": {"field": "v", "type": "quantitative", "scale": {"domain": [-63.8, 68.9], "nice": false, "zero": false}, "axis": {"values": [-50, -25, 0, 25, 50], "title": "x (mm)"}},
  "color": {"field": "s", "type": "nominal", "scale": {"domain": ["a", "b", "c"], "range": ["#0000ff", "#daa520", "#000000"]}, "legend": null},
  "strokeDash": {"field": "s", "type": "nominal", "scale": {"domain": ["a", "b", "c"], "range": [[11, 3, 2, 3], [1, 0], [15, 6.5]]}, "legend": null},
  "strokeWidth": {"field": "s", "type": "nominal", "scale": {"type": "ordinal", "domain": ["a", "b", "c"], "range": [1.5, 4, 4]}, "legend": null}
 }},
{"width": 290, "height": 230, "transform": [{"filter": "datum.p == 5"}], "mark": {"type": "line"},
 "encoding": {
  "x": {"field": "t", "type": "quantitative", "scale": {"domain": [-270, 5670], "nice": false, "zero": false}, "axis": {"values": [0, 2000, 4000], "format": "d", "title": "t (frame)"}},
  "y": {"field": "v", "type": "quantitative", "scale": {"domain": [-26.3, 95.5], "nice": false, "zero": false}, "axis": {"values": [-25, 0, 25, 50, 75], "title": "y (mm)"}},
  "color": {"field": "s", "type": "nominal", "scale": {"domain": ["a", "b", "c"], "range": ["#0000ff", "#daa520", "#000000"]}, "legend": null},
  "strokeDash": {"field": "s", "type": "nominal", "scale": {"domain": ["a", "b", "c"], "range": [[11, 3, 2, 3], [1, 0], [15, 6.5]]}, "legend": null},
  "strokeWidth": {"field": "s", "type": "nominal", "scale": {"type": "ordinal", "domain": ["a", "b", "c"], "range": [1.5, 4, 4]}, "legend": null}
 }},
{"width": 280, "height": 230, "transform": [{"filter": "datum.p == 6"}], "mark": {"type": "line"},
 "encoding": {
  "x": {"field": "t", "type": "quantitative", "scale": {"domain": [-270, 5465], "nice": false, "zero": false}, "axis": {"values": [0, 2000, 4000], "format": "d", "title": "t (frame)"}},
  "y": {"field": "v", "type": "quantitative", "scale": {"domain": [-71.3, 41.2], "nice": false, "zero": false}, "axis": {"values": [-60, -40, -20, 0, 20, 40], "title": "z (mm)"}},
  "color": {"field": "s", "type": "nominal", "scale": {"domain": ["a", "b", "c"], "range": ["#0000ff", "#daa520", "#000000"]}, "legend": null},
  "strokeDash": {"field": "s", "type": "nominal", "scale": {"domain": ["a", "b", "c"], "range": [[11, 3, 2, 3], [1, 0], [15, 6.5]]}, "legend": null},
  "strokeWidth": {"field": "s", "type": "nominal", "scale": {"type": "ordinal", "domain": ["a", "b", "c"], "range": [1.5, 4, 4]}, "legend": null}
 }}
]
}
